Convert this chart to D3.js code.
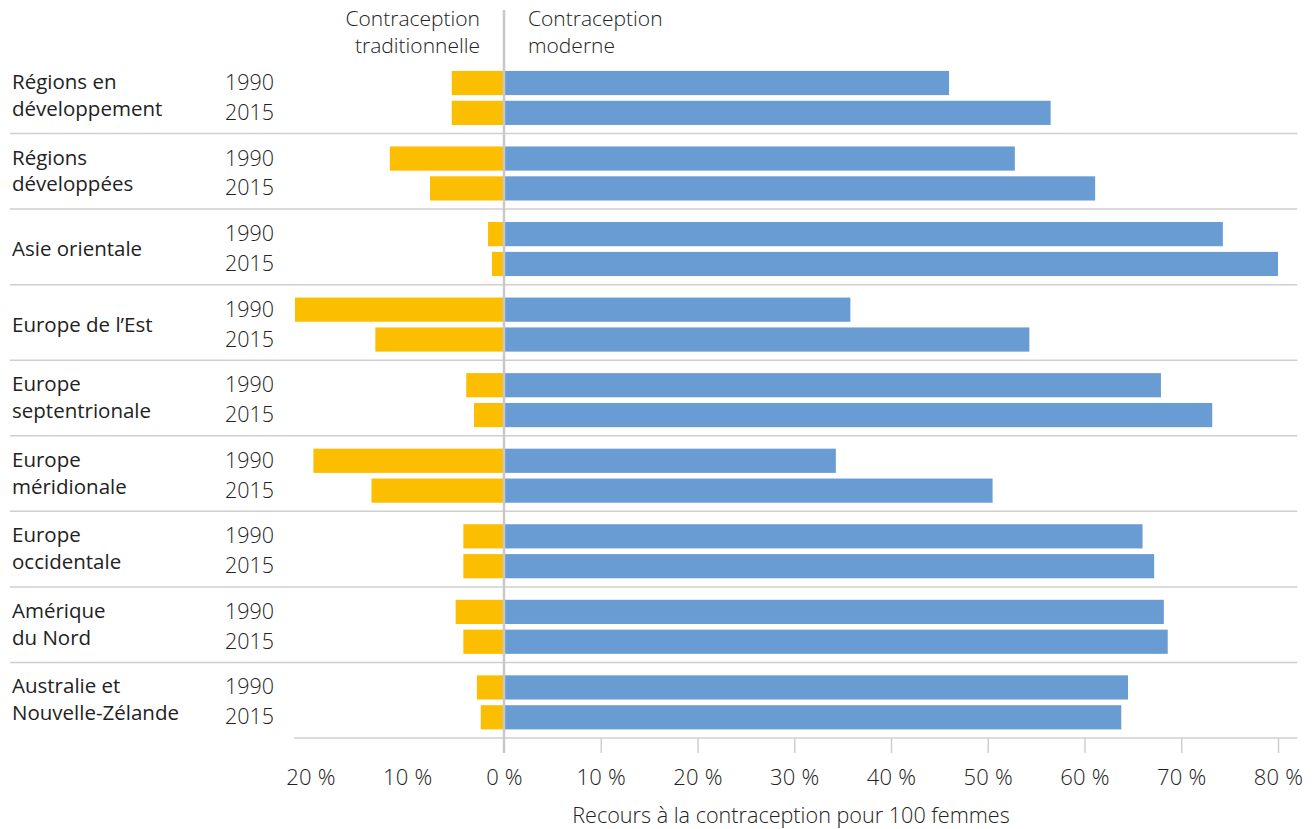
<!DOCTYPE html>
<html>
<head>
<meta charset="utf-8">
<script src="https://cdn.jsdelivr.net/npm/d3@7"></script>
<style>
  body { margin: 0; background: #fff; }
  text { font-family: "Open Sans", sans-serif; fill: #222; }
  .light { font-weight: 300; }
</style>
</head>
<body>
<div id="chart"></div>
<script>
// regions, label lines, and values (per 100 women)
const regions = [
  ["Régions en", "développement"],
  ["Régions", "développées"],
  ["Asie orientale"],
  ["Europe de l’Est"],
  ["Europe", "septentrionale"],
  ["Europe", "méridionale"],
  ["Europe", "occidentale"],
  ["Amérique", "du Nord"],
  ["Australie et", "Nouvelle-Zélande"]
];
const years = ["1990", "2015"];
const modern1990 = [46.0, 52.8, 74.3, 35.8, 67.9, 34.3, 66.0, 68.2, 64.5];
const modern2015 = [56.5, 61.1, 80.0, 54.3, 73.2, 50.5, 67.2, 68.6, 63.8];
const trad1990 = [5.4, 11.8, 1.65, 21.6, 3.9, 19.7, 4.2, 5.0, 2.8];
const trad2015 = [5.4, 7.65, 1.24, 13.3, 3.1, 13.7, 4.2, 4.2, 2.4];
const tickValues = [-20, -10, 0, 10, 20, 30, 40, 50, 60, 70, 80];

const data = regions.map((lines, i) => ({
  id: i,
  lines: lines,
  values: [
    { year: "1990", modern: modern1990[i], trad: trad1990[i] },
    { year: "2015", modern: modern2015[i], trad: trad2015[i] }
  ]
}));

const width = 1314, height = 829;
const svg = d3.select("#chart").append("svg")
  .attr("width", width)
  .attr("height", height);

const x = d3.scaleLinear().domain([0, 80]).range([504, 1278]);
const y = d3.scaleBand().domain(data.map(d => d.id)).range([58, 738]);
const yInner = d3.scaleBand().domain(years).range([0, y.bandwidth()])
  .paddingInner(0.19).paddingOuter(0.36).align(0.6);

// separators
svg.append("g").selectAll("line")
  .data(data.slice(1).map(d => d.id))
  .enter().append("line")
  .attr("x1", 10)
  .attr("x2", x(82))
  .attr("y1", d => y(d))
  .attr("y2", d => y(d))
  .style("stroke", "#cfcfcf")
  .style("stroke-width", 1.5);

svg.append("line")
  .attr("x1", x(-21.7))
  .attr("x2", x(82))
  .attr("y1", y.range()[1])
  .attr("y2", y.range()[1])
  .style("stroke", "#cfcfcf")
  .style("stroke-width", 1.5);

const groups = svg.append("g").selectAll("g")
  .data(data)
  .enter().append("g")
  .attr("transform", d => `translate(0,${y(d.id)})`);

groups.selectAll("rect.trad")
  .data(d => d.values)
  .enter().append("rect")
  .attr("class", "trad")
  .attr("x", d => x(-d.trad))
  .attr("width", d => x(0) - x(-d.trad))
  .attr("y", d => yInner(d.year))
  .attr("height", yInner.bandwidth())
  .style("fill", "#fbbe00");

groups.selectAll("rect.modern")
  .data(d => d.values)
  .enter().append("rect")
  .attr("class", "modern")
  .attr("x", x(0))
  .attr("width", d => x(d.modern) - x(0))
  .attr("y", d => yInner(d.year))
  .attr("height", yInner.bandwidth())
  .style("fill", "#689cd2");

// year labels
groups.selectAll("text.year")
  .data(d => d.values)
  .enter().append("text")
  .attr("class", "year light")
  .attr("x", 274)
  .attr("y", d => yInner(d.year) + yInner.bandwidth() / 2 + 7)
  .attr("text-anchor", "end")
  .style("font-size", "21.5px")
  .text(d => d.year);

// region labels
groups.each(function(d) {
  const g = d3.select(this);
  const c1 = yInner("1990") + yInner.bandwidth() / 2 + 7;
  const c2 = yInner("2015") + yInner.bandwidth() / 2 + 7;
  const t = g.append("text")
    .attr("x", 12)
    .style("font-size", "20.5px");
  if (d.lines.length === 1) {
    t.attr("y", (c1 + c2) / 2).text(d.lines[0]);
  } else {
    t.append("tspan").attr("x", 12).attr("y", c1 - 1).text(d.lines[0]);
    t.append("tspan").attr("x", 12).attr("y", c2 - 4).text(d.lines[1]);
  }
});

// zero line
svg.append("line")
  .attr("x1", x(0))
  .attr("x2", x(0))
  .attr("y1", 10)
  .attr("y2", 753)
  .style("stroke", "#c8c8c8")
  .style("stroke-width", 2.5);

// axis
const axis = svg.append("g")
  .attr("transform", `translate(0,${y.range()[1]})`)
  .call(d3.axisBottom(x)
    .tickValues(tickValues)
    .tickSize(15)
    .tickPadding(16)
    .tickFormat(d => Math.abs(d) + " %"));
axis.select(".domain").remove();
axis.selectAll(".tick line")
  .style("stroke", d => d <= 0 ? "none" : "#cfcfcf")
  .style("stroke-width", 1.5);
axis.selectAll(".tick text")
  .attr("class", "light")
  .style("font-size", "22px")
  .style("letter-spacing", "0.2px")
  .style("font-family", "'Open Sans', sans-serif")
  .style("fill", "#222");

svg.append("text")
  .attr("class", "light")
  .attr("x", 791)
  .attr("y", 823)
  .attr("text-anchor", "middle")
  .style("font-size", "21.6px")
  .text("Recours à la contraception pour 100 femmes");

// column headers
const headLeft = ["Contraception", "traditionnelle"];
const headRight = ["Contraception", "moderne"];
svg.append("g").selectAll("text")
  .data(headLeft)
  .enter().append("text")
  .attr("class", "light")
  .attr("text-anchor", "end")
  .attr("x", 480)
  .attr("y", (d, i) => 26 + i * 27)
  .style("font-size", "21px")
  .text(d => d);
svg.append("g").selectAll("text")
  .data(headRight)
  .enter().append("text")
  .attr("class", "light")
  .attr("text-anchor", "start")
  .attr("x", 528)
  .attr("y", (d, i) => 26 + i * 27)
  .style("font-size", "21px")
  .text(d => d);
</script>
</body>
</html>
